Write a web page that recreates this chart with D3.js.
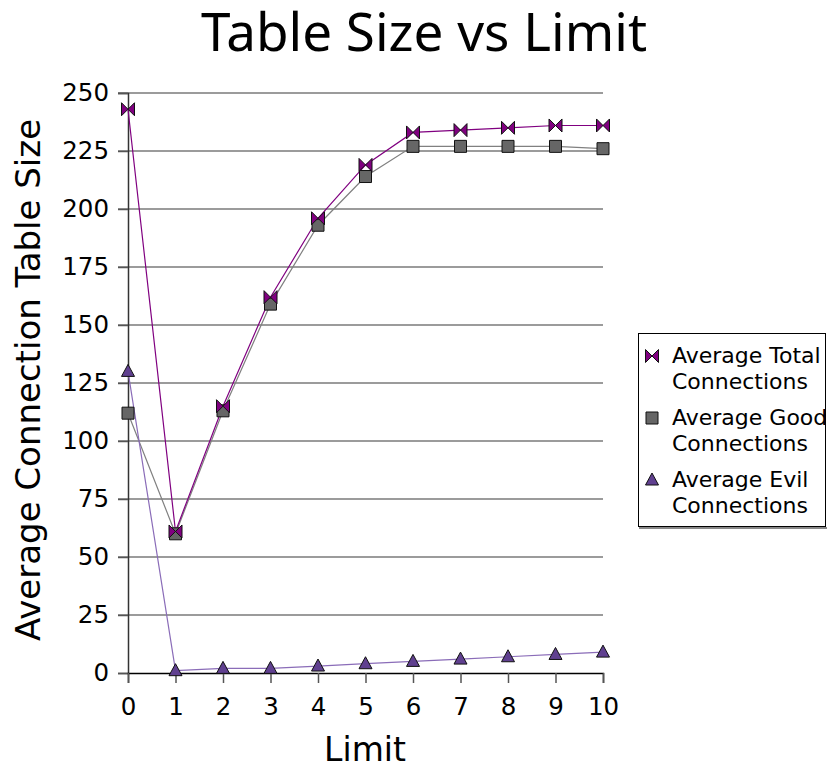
<!DOCTYPE html>
<html>
<head>
<meta charset="utf-8">
<script src="https://cdn.jsdelivr.net/npm/d3@7"></script>
<style>
  html, body { margin: 0; padding: 0; background: #fff; }
  svg { display: block; }
  text { font-family: "DejaVu Sans", Verdana, sans-serif; fill: #000; }
</style>
</head>
<body>
<svg id="chart" width="827" height="768"></svg>
<script>
// Limit values on the x axis
const limits = [0, 1, 2, 3, 4, 5, 6, 7, 8, 9, 10];
// Average connection table sizes per limit
const totalConnections = [243, 61, 115, 162, 196, 219, 233, 234, 235, 236, 236];
const goodConnections  = [112, 60, 113, 159, 193, 214, 227, 227, 227, 227, 226];
const evilConnections  = [130, 1, 2, 2, 3, 4, 5, 6, 7, 8, 9];
const yTicks = [0, 25, 50, 75, 100, 125, 150, 175, 200, 225, 250];
const seriesNames = [["Average Total", "Connections"], ["Average Good", "Connections"], ["Average Evil", "Connections"]];

const svg = d3.select("#chart");
const plot = { left: 128, right: 603, top: 93, bottom: 673 };

const x = d3.scaleLinear().domain([0, 10]).range([plot.left, plot.right]);
const y = d3.scaleLinear().domain([0, 250]).range([plot.bottom, plot.top]);

// Horizontal gridlines
svg.append("g")
  .selectAll("line")
  .data(yTicks.filter(d => d > 0))
  .join("line")
  .attr("x1", plot.left - 10).attr("x2", plot.right)
  .attr("y1", d => y(d)).attr("y2", d => y(d))
  .attr("stroke", "#7a7a7a").attr("stroke-width", 1.5);

// Y axis
const yAxis = svg.append("g")
  .attr("transform", `translate(${plot.left},0)`)
  .call(d3.axisLeft(y).tickValues(yTicks).tickSize(10).tickPadding(9));
yAxis.select(".domain").attr("stroke", "#333").attr("stroke-width", 1.5);
yAxis.selectAll(".tick line").attr("stroke", "#555").attr("stroke-width", 1.5);
yAxis.selectAll("text").style("font-family", "DejaVu Sans").style("font-size", "24.5px").attr("fill", "#000");

// X axis
const xAxis = svg.append("g")
  .attr("transform", `translate(0,${plot.bottom})`)
  .call(d3.axisBottom(x).tickValues(limits).tickSize(10).tickPadding(15).tickFormat(d3.format("d")));
xAxis.select(".domain").attr("stroke", "#000").attr("stroke-width", 1.5);
xAxis.selectAll(".tick line").attr("stroke", "#555").attr("stroke-width", 1.5);
xAxis.selectAll("text").style("font-family", "DejaVu Sans").style("font-size", "24.5px").attr("fill", "#000");

// Series definitions
const series = [
  { values: goodConnections,  line: "#808080", fill: "#666666", shape: "square" },
  { values: evilConnections,  line: "#8a6cb8", fill: "#604090", shape: "triangle" },
  { values: totalConnections, line: "#800080", fill: "#800080", shape: "bowtie" }
];

const lineGen = d3.line().x((d, i) => x(limits[i])).y(d => y(d));

series.forEach(s => {
  svg.append("path")
    .attr("d", lineGen(s.values))
    .attr("fill", "none")
    .attr("stroke", s.line)
    .attr("stroke-width", 1.2);
});

function markerPath(shape, cx, cy) {
  const h = 6;
  if (shape === "square") {
    return `M${cx - h},${cy - h}H${cx + h}V${cy + h}H${cx - h}Z`;
  }
  if (shape === "triangle") {
    return `M${cx},${cy - 7}L${cx + 6.5},${cy + 5}L${cx - 6.5},${cy + 5}Z`;
  }
  // bowtie: two triangles meeting at the centre
  const b = 6.5;
  return `M${cx - b},${cy - b}L${cx},${cy}L${cx - b},${cy + b}Z M${cx + b},${cy - b}L${cx},${cy}L${cx + b},${cy + b}Z`;
}

series.forEach(s => {
  svg.append("g")
    .selectAll("path")
    .data(s.values)
    .join("path")
    .attr("d", (d, i) => markerPath(s.shape, x(limits[i]), y(d)))
    .attr("fill", s.fill)
    .attr("stroke", "#111")
    .attr("stroke-width", 1);
});

// Title
svg.append("text")
  .attr("x", 424).attr("y", 51)
  .attr("text-anchor", "middle")
  .style("font-family", "Noto Sans")
  .style("font-size", "53px")
  .text("Table Size vs Limit");

// Axis titles
svg.append("text")
  .attr("x", 365).attr("y", 761)
  .attr("text-anchor", "middle")
  .style("font-size", "33px")
  .text("Limit");

svg.append("text")
  .attr("transform", `translate(40,380) rotate(-90)`)
  .attr("text-anchor", "middle")
  .style("font-size", "34px")
  .text("Average Connection Table Size");

// Legend
const legend = svg.append("g");
legend.append("rect")
  .attr("x", 638.5).attr("y", 333.5)
  .attr("width", 187).attr("height", 193)
  .attr("fill", "#fff").attr("stroke", "#000").attr("stroke-width", 1);
legend.append("line")
  .attr("x1", 639).attr("x2", 827).attr("y1", 528).attr("y2", 528)
  .attr("stroke", "#888").attr("stroke-width", 2);

const legendOrder = [2, 0, 1];
legendOrder.forEach((si, k) => {
  const s = series[si];
  const cy = 356 + k * 62;
  legend.append("path")
    .attr("d", markerPath(s.shape, 652, cy))
    .attr("fill", s.fill)
    .attr("stroke", "#111")
    .attr("stroke-width", 1);
  const t = legend.append("text")
    .attr("x", 672).attr("y", cy + 7)
    .style("font-size", "22px");
  t.append("tspan").attr("x", 672).text(seriesNames[k][0]);
  t.append("tspan").attr("x", 672).attr("dy", 26).text(seriesNames[k][1]);
});
</script>
</body>
</html>
